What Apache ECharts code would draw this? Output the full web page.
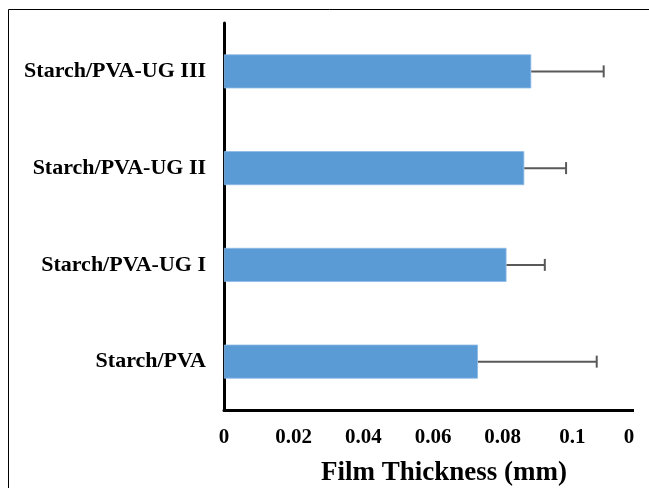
<!DOCTYPE html>
<html>
<head>
<meta charset="utf-8">
<script src="https://cdn.jsdelivr.net/npm/echarts@6/dist/echarts.min.js"></script>
<style>html,body{margin:0;padding:0;background:#fff;}#c{width:649px;height:488px;}</style>
</head>
<body>
<div id="c"></div>
<script>
const categories = ['Starch/PVA', 'Starch/PVA-UG I', 'Starch/PVA-UG II', 'Starch/PVA-UG III'];
const thickness = [0.0729, 0.0811, 0.0862, 0.0882];
const errors = [0.0341, 0.0110, 0.0120, 0.0208];
const xTicks = [0, 0.02, 0.04, 0.06, 0.08, 0.1, 0.12];

const chart = echarts.init(document.getElementById('c'), null, {renderer: 'canvas'});
const serif = '"Liberation Serif", "Times New Roman", serif';

chart.setOption({
  backgroundColor: '#fff',
  animation: false,
  grid: {left: 224, right: 7, top: 23, bottom: 78, containLabel: false, outerBoundsMode: 'none'},
  xAxis: {
    type: 'value',
    min: xTicks[0],
    max: xTicks[xTicks.length - 1],
    interval: xTicks[1] - xTicks[0],
    axisLine: {show: true, lineStyle: {color: '#000', width: 3}},
    axisTick: {show: false},
    splitLine: {show: false},
    axisLabel: {
      margin: 17,
      fontFamily: serif, fontWeight: 'bold', fontSize: 21, color: '#000',
      hideOverlap: false,
      formatter: v => String(+v.toFixed(2))
    },
    name: 'Film Thickness (mm)',
    nameLocation: 'middle',
    nameGap: 50,
    nameTextStyle: {fontFamily: serif, fontWeight: 'bold', fontSize: 27, color: '#000', padding: [0, 0, 0, 22]}
  },
  yAxis: {
    type: 'category',
    data: categories,
    axisLine: {show: true, lineStyle: {color: '#000', width: 3}},
    axisTick: {show: false},
    splitLine: {show: false},
    axisLabel: {margin: 18, fontFamily: serif, fontWeight: 'bold', fontSize: 22, color: '#000'}
  },
  series: [
    {
      type: 'bar',
      data: thickness,
      barWidth: 34,
      itemStyle: {color: '#5B9BD5', borderColor: '#8DB9E6', borderWidth: 0.8},
      z: 2
    },
    {
      type: 'custom',
      z: 3,
      data: categories.map((c, i) => [thickness[i], i, errors[i]]),
      renderItem: function (params, api) {
        const v = api.value(0), idx = api.value(1), e = api.value(2);
        const p0 = api.coord([v, idx]);
        const p1 = api.coord([v + e, idx]);
        const h = 6;
        const style = {stroke: '#595959', lineWidth: 2};
        return {
          type: 'group',
          children: [
            {type: 'line', shape: {x1: p0[0], y1: p0[1], x2: p1[0], y2: p1[1]}, style: style},
            {type: 'line', shape: {x1: p1[0], y1: p1[1] - h, x2: p1[0], y2: p1[1] + h}, style: style}
          ]
        };
      }
    }
  ],
  graphic: [
    {type: 'rect', z: 100, shape: {x: 634, y: 12, width: 20, height: 480}, style: {fill: '#fff'}},
    {type: 'polyline', z: 101, shape: {points: [[8.5, 490], [8.5, 9.5], [650, 9.5]]}, style: {stroke: '#000', lineWidth: 1, fill: null}}
  ]
});
</script>
</body>
</html>
